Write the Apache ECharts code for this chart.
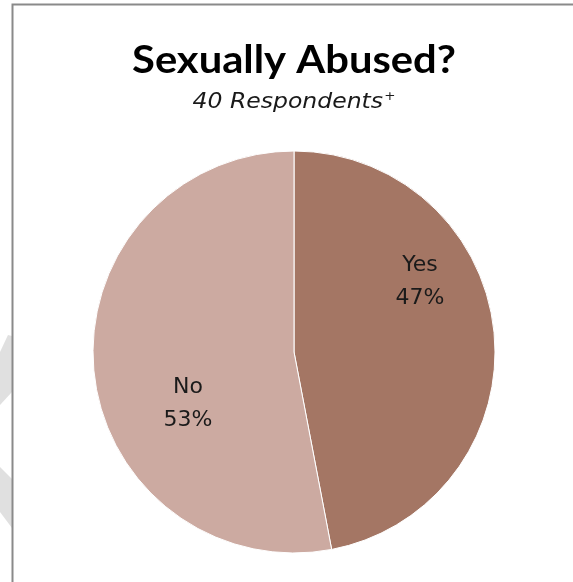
<!DOCTYPE html>
<html>
<head>
<meta charset="utf-8">
<script src="https://cdn.jsdelivr.net/npm/echarts@6/dist/echarts.min.js"></script>
<style>
  html, body { margin: 0; padding: 0; background: #ffffff; }
  #chart { width: 573px; height: 582px; }
</style>
</head>
<body>
<div id="chart"></div>
<script>
// Survey answers
const categories = ['Yes', 'No'];
const percentages = [47, 53];
const sliceColors = ['#A47664', '#CCAAA1'];
const titleText = 'Sexually Abused?';
const respondentCount = 40;

// Pie geometry
const pieCenter = [294, 352];
const pieRadius = 201;
// Label anchor offsets from the pie centre
const labelOffsets = [[126, -70], [-106, 52]];

const chart = echarts.init(document.getElementById('chart'), null, { renderer: 'canvas' });

const titleFont = 'Lato, "Open Sans", sans-serif';
const bodyFont = '"DejaVu Sans", Verdana, sans-serif';

chart.setOption({
  backgroundColor: '#ffffff',
  animation: false,
  graphic: [
    // faint decorative chevrons left of the frame
    { type: 'polygon', silent: true, shape: { points: [[0, 352], [8, 335], [12, 336], [12, 392], [0, 405]] }, style: { fill: '#e0e0e0' } },
    { type: 'polygon', silent: true, shape: { points: [[0, 467], [12, 479], [12, 528], [0, 512]] }, style: { fill: '#e0e0e0' } },
    // chart frame
    { type: 'rect', silent: true, shape: { x: 12.5, y: 4.5, width: 700, height: 700 }, style: { fill: 'none', stroke: '#8a8a8a', lineWidth: 2 } },
    // title
    {
      type: 'text', silent: true, x: 294, y: 60, scaleX: 1.07, originX: 0,
      style: {
        text: titleText,
        font: 'bold 39px ' + titleFont,
        fill: '#000000',
        align: 'center',
        verticalAlign: 'middle'
      }
    },
    // subtitle with superscript mark
    {
      type: 'text', silent: true, x: 294, y: 103, scaleX: 1.12,
      style: {
        text: '{n|' + respondentCount + ' Respondents}{s|+}',
        align: 'center',
        verticalAlign: 'middle',
        rich: {
          n: { fontFamily: bodyFont, fontStyle: 'italic', fontSize: 21, fill: '#1a1a1a' },
          s: { fontFamily: bodyFont, fontSize: 12, fill: '#1a1a1a', verticalAlign: 'top', padding: [0, 0, 12, 1] }
        }
      }
    }
  ],
  series: [{
    type: 'pie',
    center: pieCenter,
    radius: pieRadius,
    startAngle: 90,
    clockwise: true,
    data: categories.map((c, i) => ({ name: c, value: percentages[i], itemStyle: { color: sliceColors[i] } })),
    itemStyle: { borderColor: '#ffffff', borderWidth: 1 },
    label: {
      show: true,
      position: 'inside',
      formatter: p => p.name + '\n' + percentages[p.dataIndex] + '%',
      fontFamily: bodyFont,
      fontSize: 22,
      lineHeight: 33,
      color: '#1a1a1a',
      align: 'center'
    },
    labelLine: { show: false },
    labelLayout: p => ({
      x: pieCenter[0] + labelOffsets[p.dataIndex][0],
      y: pieCenter[1] + labelOffsets[p.dataIndex][1],
      align: 'center',
      verticalAlign: 'middle'
    }),
    emphasis: { disabled: true }
  }]
});
</script>
</body>
</html>
